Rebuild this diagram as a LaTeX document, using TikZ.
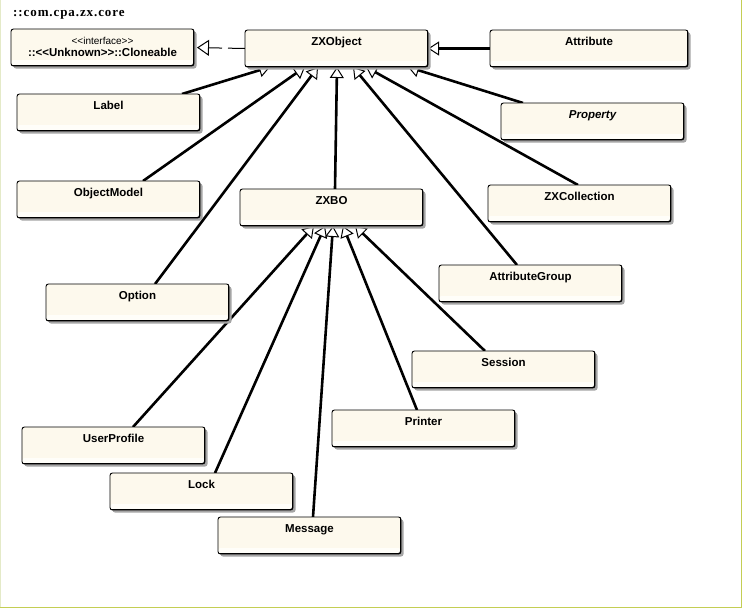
\documentclass[tikz,border=0pt]{standalone}
\usepackage{fontspec}
\setmainfont{Liberation Sans}
\newfontfamily\pkgfont{Liberation Serif}[LetterSpace=7]
\usetikzlibrary{arrows.meta,shadows,backgrounds}

% keep << and >> from turning into guillemets
\newcommand\dblt{<\kern0pt<}
\newcommand\dbgt{>\kern0pt>}

\definecolor{classfill}{RGB}{253,249,237}
\definecolor{classfoot}{RGB}{255,254,249}
\definecolor{classshade}{RGB}{165,165,165}
\definecolor{pageedge}{RGB}{196,206,84}
\definecolor{pageedgeleft}{RGB}{228,234,200}

\tikzset{
  umlclass/.style={
    draw=black, line width=0.9pt, fill=classfill, rounded corners=2.5pt,
    anchor=north west, minimum width=183pt, inner xsep=0pt, inner ysep=0pt,
    outer sep=0pt, text height=15pt, text depth=22pt,
    font=\fontsize{11.5}{13}\selectfont\bfseries,
    drop shadow={shadow xshift=2.5pt, shadow yshift=-2.5pt, fill=classshade, opacity=1},
    path picture={
      \fill[classfoot] ([yshift=6pt]path picture bounding box.south west)
        rectangle (path picture bounding box.south east);
      \draw[line width=2pt] (path picture bounding box.south west)
        -- (path picture bounding box.south east)
        -- (path picture bounding box.north east);
    }
  },
  inherit/.style={line width=2.6pt,
    -{Triangle[open, length=11pt, width=14pt, line width=1pt]}},
  realize/.style={line width=1pt, dash pattern=on 17pt off 6pt,
    -{Triangle[open, length=12pt, width=16pt, line width=1pt]}},
  pkgtitle/.style={anchor=base west, inner sep=0pt,
    font=\pkgfont\bfseries\fontsize{13}{15}\selectfont},
}

\begin{document}
\begin{tikzpicture}[x=1pt, y=-1pt]
\useasboundingbox (0,0) rectangle (742,608);

% package name
\node[pkgtitle] (pkg) at (13,16) {::com.cpa.zx.core};

% classes
\node[umlclass, text height=27.5pt, text depth=9.5pt,
  label={[name=cloneable-stereo, anchor=base, yshift=-15pt, inner sep=0pt,
          font=\fontsize{10}{12}\selectfont]north:\dblt interface\dbgt}]
  (cloneable) at (11,29) {::\dblt Unknown\dbgt ::Cloneable};
\node[umlclass] (zxobject) at (245,30) {ZXObject};
\node[umlclass, minimum width=198pt] (attribute) at (490,30) {Attribute};
\node[umlclass] (labelcls) at (17,94) {Label};
\node[umlclass, font=\fontsize{11.5}{13}\selectfont\bfseries\itshape] (property) at (501,103) {Property};
\node[umlclass] (objectmodel) at (17,181) {ObjectModel};
\node[umlclass] (zxbo) at (240,189) {ZXBO};
\node[umlclass] (zxcollection) at (488,185) {ZXCollection};
\node[umlclass] (attributegroup) at (439,265) {AttributeGroup};
\node[umlclass] (option) at (46,284) {Option};
\node[umlclass] (session) at (412,351) {Session};
\node[umlclass] (printer) at (332,410) {Printer};
\node[umlclass] (userprofile) at (22,427) {UserProfile};
\node[umlclass] (lock) at (110,473) {Lock};
\node[umlclass] (message) at (218,517) {Message};

\begin{scope}[on background layer]
  \fill[white] (0,0) rectangle (742,608);

  % realization of the interface
  \draw[realize, shorten >=3pt] (zxobject.west) -- (cloneable.east);

  % subclasses of ZXObject
  \draw[inherit] (attribute.west) -- (zxobject.east);
  \draw[inherit] ([xshift=165pt]labelcls.north west) -- ([xshift=25pt]zxobject.south west);
  \draw[inherit] ([xshift=126pt]objectmodel.north west) -- ([xshift=60pt]zxobject.south west);
  \draw[inherit] ([xshift=109pt]option.north west) -- ([xshift=73pt]zxobject.south west);
  \draw[inherit] ([xshift=95pt]zxbo.north west) -- ([xshift=92pt]zxobject.south west);
  \draw[inherit] ([xshift=78pt]attributegroup.north west) -- ([xshift=108pt]zxobject.south west);
  \draw[inherit] ([xshift=90pt]zxcollection.north west) -- ([xshift=121pt]zxobject.south west);
  \draw[inherit] ([xshift=22pt]property.north west) -- ([xshift=163pt]zxobject.south west);

  % subclasses of ZXBO
  \draw[inherit] ([xshift=111pt]userprofile.north west) -- ([xshift=74pt]zxbo.south west);
  \draw[inherit] ([xshift=105pt]lock.north west) -- ([xshift=85pt]zxbo.south west);
  \draw[inherit] ([xshift=95pt]message.north west) -- ([xshift=93pt]zxbo.south west);
  \draw[inherit] ([xshift=85pt]printer.north west) -- ([xshift=103pt]zxbo.south west);
  \draw[inherit] ([xshift=73pt]session.north west) -- ([xshift=115pt]zxbo.south west);
\end{scope}

% window edges
\draw[pageedgeleft, line width=0.8pt] (0.4,0) -- (0.4,607);
\draw[pageedge, line width=1.3pt] (741.3,0) -- (741.3,607.3) -- (0,607.3);
\end{tikzpicture}
\end{document}
